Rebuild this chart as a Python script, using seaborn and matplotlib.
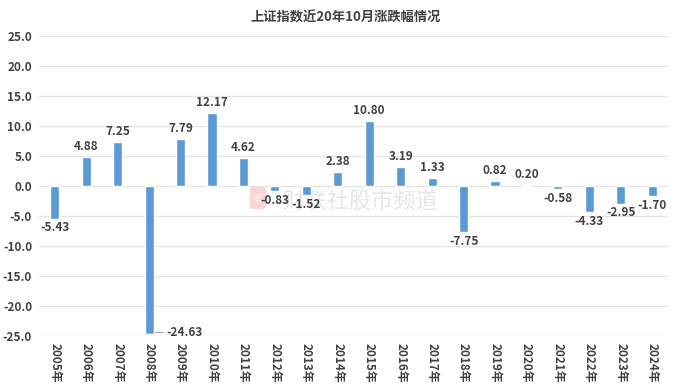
import matplotlib
matplotlib.use("Agg")
import matplotlib.pyplot as plt
import seaborn as sns

# data
years = [f"{y}年" for y in range(2005, 2025)]
changes = [-5.43, 4.88, 7.25, -24.63, 7.79, 12.17, 4.62, -0.83, -1.52, 2.38,
           10.80, 3.19, 1.33, -7.75, 0.82, 0.20, -0.58, -4.33, -2.95, -1.70]
y_ticks = [-25, -20, -15, -10, -5, 0, 5, 10, 15, 20, 25]

sns.set_theme(style="white")
plt.rcParams['font.family'] = ['Noto Sans CJK SC', 'DejaVu Sans']

bar_color = "#5B9BD5"
text_color = "#404040"
grid_color = "#E3E3E3"

fig = plt.figure(figsize=(6.92, 3.87), dpi=100)
ax = fig.add_axes([0.0564, 0.1318, 0.9089, 0.7752])

sns.barplot(x=years, y=changes, color=bar_color, width=0.29, saturation=1, ax=ax)

ax.set_xlim(-0.5, len(years) - 0.5)
ax.set_ylim(-25, 25)
ax.set_yticks(y_ticks)
ax.set_yticklabels([f"{t:.1f}" for t in y_ticks], fontsize=8.5, fontweight="bold", color=text_color)
ax.tick_params(axis="y", length=0, pad=5)
ax.tick_params(axis="x", length=0, pad=5)
for lbl in ax.get_xticklabels():
    lbl.set_rotation(-90)
    lbl.set_fontsize(8.5)
    lbl.set_fontweight("bold")
    lbl.set_color(text_color)
    lbl.set_va("top")

ax.grid(axis="y", color=grid_color, linewidth=0.9)
ax.set_axisbelow(True)
for s in ["top", "right", "left", "bottom"]:
    ax.spines[s].set_visible(False)
ax.set_xlabel("")
ax.set_ylabel("")

# value labels
for i, v in enumerate(changes):
    if v < -24:
        # bar runs past the axis floor: label sits to the right with a leader line
        ax.annotate("", xy=(i + 0.2, -24.4), xytext=(i + 0.45, -24.4),
                    arrowprops=dict(arrowstyle="-", color="#A6A6A6", lw=0.8,
                                    shrinkA=0, shrinkB=0))
        ax.text(i + 0.55, -24.4, f"{v:.2f}", fontsize=8.5, fontweight="bold",
                color=text_color, va="center", ha="left")
    elif v >= 0:
        ax.annotate(f"{v:.2f}", xy=(i, v), xytext=(0, 3), textcoords="offset points",
                    ha="center", va="bottom", fontsize=8.5, fontweight="bold", color=text_color)
    else:
        ax.annotate(f"{v:.2f}", xy=(i, v), xytext=(0, -2), textcoords="offset points",
                    ha="center", va="top", fontsize=8.5, fontweight="bold", color=text_color)

# faint watermark
ax.text(0.348, 0.46, "e", transform=ax.transAxes, fontsize=10, color="#FDEDED",
        fontweight="bold", ha="center", va="center", zorder=0,
        bbox=dict(boxstyle="round,pad=0.3", facecolor="#F9D6D6", edgecolor="none"))
ax.text(0.386, 0.45, "财联社股市频道", transform=ax.transAxes, fontsize=16,
        color="#E6E6E6", ha="left", va="center", zorder=0)

fig.text(0.5, 0.955, "上证指数近20年10月涨跌幅情况", ha="center", va="center",
         fontsize=9.5, fontweight="bold", color=text_color)

fig.savefig("out.png", dpi=100)
